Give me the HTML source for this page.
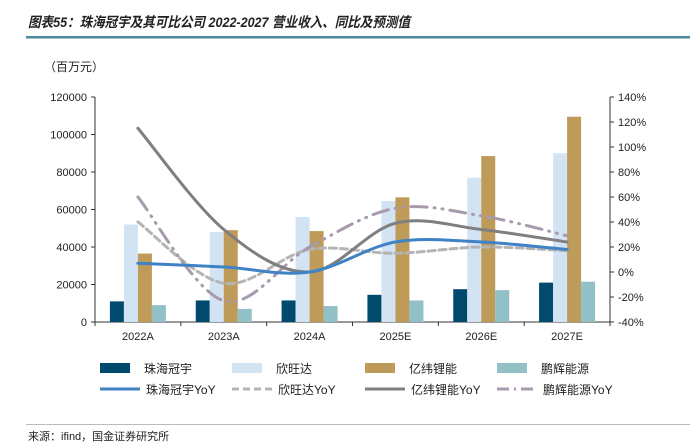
<!DOCTYPE html>
<html><head><meta charset="utf-8"><style>
body{margin:0;background:#fff;width:690px;height:447px;overflow:hidden;font-family:"Liberation Sans","Noto Sans CJK SC",sans-serif;}
svg{display:block}
</style></head><body>
<svg id="c" width="690" height="447" xmlns="http://www.w3.org/2000/svg">
<text x="28" y="27" font-size="14" font-weight="bold" font-style="italic" fill="#222" textLength="382" lengthAdjust="spacingAndGlyphs" font-family="Liberation Sans, Noto Sans CJK SC, sans-serif">图表55：珠海冠宇及其可比公司 2022-2027 营业收入、同比及预测值</text>
<rect x="26" y="36" width="664" height="2.5" fill="#4f87a0"/>
<text x="44" y="71" font-size="12" fill="#222">（百万元）</text>
<g id="plot"></g>
<rect x="26" y="424" width="664" height="1" fill="#bbb"/>
<text x="28" y="440" font-size="11" fill="#222">来源：ifind，国金证券研究所</text>
</svg>
<script>
const categories=["2022A","2023A","2024A","2025E","2026E","2027E"];
const revGuanyu=[11000,11500,11500,14500,17500,21000];
const revXinwangda=[52000,48000,56000,64500,77000,90000];
const revYiwei=[36500,49000,48500,66500,88500,109500];
const revPenghui=[9000,7000,8500,11500,17000,21500];
const yoyGuanyu=[7,4,0,24,24,18];
const yoyXinwangda=[40,-9,18,15,20,17];
const yoyYiwei=[115,34,0,39,34,24];
const yoyPenghui=[60,-23,20,51,45,29];
const leftTicks=[0,20000,40000,60000,80000,100000,120000];
const rightTicks=[-40,-20,0,20,40,60,80,100,120,140];

const NS="http://www.w3.org/2000/svg";
const g=document.getElementById('plot');
const X0=95,X1=610,Y0=322,Y1=97;
const bw=(X1-X0)/categories.length;
const cx=i=>X0+bw*(i+0.5);
const yL=v=>Y0-(v-0)/(120000)*(Y0-Y1);
const yR=v=>Y0-(v+40)/180*(Y0-Y1);
function mk(t,a){const e=document.createElementNS(NS,t);for(const k in a)e.setAttribute(k,a[k]);g.appendChild(e);return e;}
let e=mk('line',{x1:X0,y1:Y1,x2:X0,y2:Y0,stroke:'#333'});

e=mk('line',{x1:X1,y1:Y1,x2:X1,y2:Y0,stroke:'#333'});

e=mk('line',{x1:X0,y1:Y0,x2:X1,y2:Y0,stroke:'#333'});

leftTicks.forEach(v=>{mk('line',{x1:X0-4,x2:X0,y1:yL(v),y2:yL(v),stroke:'#333'});
 const t=mk('text',{x:X0-8,y:yL(v)+4,'font-size':11,'text-anchor':'end',fill:'#222'});t.textContent=v;
 });
rightTicks.forEach(v=>{mk('line',{x1:X1,x2:X1+4,y1:yR(v),y2:yR(v),stroke:'#333'});
 const t=mk('text',{x:X1+8,y:yR(v)+4,'font-size':11,fill:'#222'});t.textContent=v+'%';
 });
categories.forEach((c,i)=>{mk('line',{x1:X0+bw*i,x2:X0+bw*i,y1:Y0,y2:Y0+4,stroke:'#333'});
 const t=mk('text',{x:cx(i),y:Y0+18,'font-size':11,'text-anchor':'middle',fill:'#222'});t.textContent=c;
 });
mk('line',{x1:X1,x2:X1,y1:Y0,y2:Y0+4,stroke:'#333'});
const series=[[revGuanyu,'#004a6e','bar-guanyu'],[revXinwangda,'#d2e3f3','bar-xinwangda'],[revYiwei,'#bf9b5a','bar-yiwei'],[revPenghui,'#91c1c7','bar-penghui']];
series.forEach((s,k)=>{s[0].forEach((v,i)=>{const b=mk('rect',{x:cx(i)-28+k*14,y:yL(v),width:14,height:Y0-yL(v),fill:s[1]});
 });});
function path(vals){const p=vals.map((v,i)=>[cx(i),yR(v)]);let d='M'+p[0];
 for(let i=0;i<p.length-1;i++){const p0=p[i-1]||p[i],p1=p[i],p2=p[i+1],p3=p[i+2]||p2;
  d+=' C'+[p1[0]+(p2[0]-p0[0])/6,p1[1]+(p2[1]-p0[1])/6]+' '+[p2[0]-(p3[0]-p1[0])/6,p2[1]-(p3[1]-p1[1])/6]+' '+p2;}return d;}
const lines=[[yoyXinwangda,'#b4b4b4','7,4','line-xinwangda-yoy'],[yoyPenghui,'#a89aae','16,7,1,7,1,7','line-penghui-yoy'],[yoyYiwei,'#7f7f7f','','line-yiwei-yoy'],[yoyGuanyu,'#3f82c6','','line-guanyu-yoy']];
lines.forEach(l=>{const p=mk('path',{d:path(l[0]),fill:'none',stroke:l[1],'stroke-width':3,'stroke-dasharray':l[2],'stroke-linecap':'round'});
 });
const leg=[['rect','#004a6e','','珠海冠宇',100,368],['rect','#d2e3f3','','欣旺达',232,368],['rect','#bf9b5a','','亿纬锂能',365,368],['rect','#91c1c7','','鹏辉能源',497,368],
['line','#3f82c6','','珠海冠宇YoY',100,389],['line','#b4b4b4','7,4','欣旺达YoY',232,389],['line','#7f7f7f','','亿纬锂能YoY',365,389],['line','#a89aae','12,5,2,5','鹏辉能源YoY',497,389]];
leg.forEach(l=>{let m;if(l[0]=='rect')m=mk('rect',{x:l[4],y:l[5]-5,width:30,height:10,fill:l[1]});
 else m=mk('line',{x1:l[4],x2:l[4]+40,y1:l[5],y2:l[5],stroke:l[1],'stroke-width':3,'stroke-dasharray':l[2]});
 
 const t=mk('text',{x:l[4]+(l[0]=='rect'?44:46),y:l[5]+5,'font-size':12,fill:'#222'});t.textContent=l[3];
 });
</script>
</body></html>
